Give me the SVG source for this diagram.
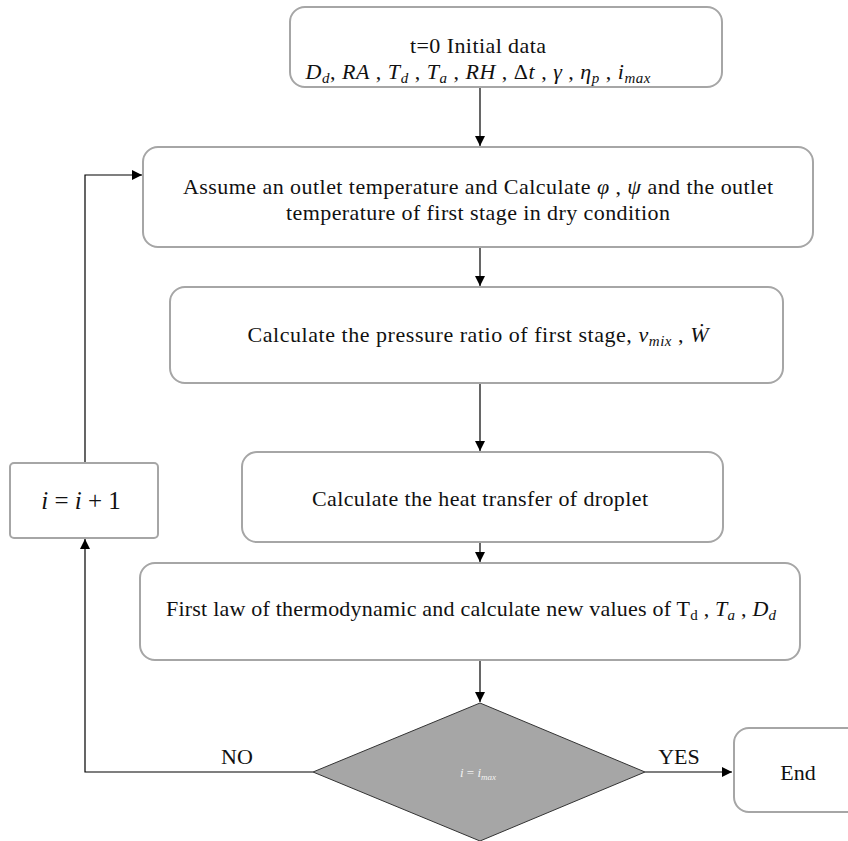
<svg xmlns="http://www.w3.org/2000/svg" width="848" height="841" viewBox="0 0 848 841" font-family="Liberation Serif, Times New Roman, serif">
<defs>
<marker id="ah" viewBox="0 0 10 10" refX="10" refY="5" markerWidth="10" markerHeight="10" markerUnits="userSpaceOnUse" orient="auto">
<path d="M0,0 L10,5 L0,10 z" fill="#000"/>
</marker>
</defs>
<style>
.box{fill:#fff;stroke:#a6a6a6;stroke-width:2}
.t{font-size:22px;fill:#111;text-anchor:middle}
.m{font-style:italic}
.s{font-size:15px}
.ln{fill:none;stroke:#000;stroke-width:1.2}
</style>
<rect width="848" height="841" fill="#fff"/>
<g id="connectors">
<line class="ln" x1="480" y1="87" x2="480" y2="146" marker-end="url(#ah)"/>
<line class="ln" x1="480" y1="247" x2="480" y2="286" marker-end="url(#ah)"/>
<line class="ln" x1="480" y1="383" x2="480" y2="451" marker-end="url(#ah)"/>
<line class="ln" x1="480" y1="542" x2="480" y2="562" marker-end="url(#ah)"/>
<line class="ln" x1="480" y1="660" x2="480" y2="702" marker-end="url(#ah)"/>
<polyline class="ln" points="313,772 85,772 85,539" marker-end="url(#ah)"/>
<polyline class="ln" points="85,463 85,175 142,175" marker-end="url(#ah)"/>
<line class="ln" x1="645" y1="772" x2="732" y2="772" marker-end="url(#ah)"/>
<text class="t" x="237" y="764">NO</text>
<text class="t" x="679" y="764">YES</text>
</g>
<g id="start">
<rect class="box" x="290" y="7" width="432" height="80" rx="15"/>
<text class="t" x="478" y="53" textLength="136" lengthAdjust="spacing">t=0 Initial  data</text>
<text class="t" x="478" y="79" textLength="345" lengthAdjust="spacing"><tspan class="m">D</tspan><tspan class="m s" dy="4">d</tspan><tspan dy="-4">, </tspan><tspan class="m">RA</tspan> , <tspan class="m">T</tspan><tspan class="m s" dy="4">d</tspan><tspan dy="-4"> , </tspan><tspan class="m">T</tspan><tspan class="m s" dy="4">a</tspan><tspan dy="-4"> , </tspan><tspan class="m">RH</tspan> , Δ<tspan class="m">t</tspan> , <tspan class="m">γ</tspan> , <tspan class="m">η</tspan><tspan class="m s" dy="4">p</tspan><tspan dy="-4"> , </tspan><tspan class="m">i</tspan><tspan class="m s" dy="4">max</tspan></text>
</g>
<g id="assume">
<rect class="box" x="143" y="147" width="670" height="100" rx="15"/>
<text class="t" x="478" y="194" textLength="590" lengthAdjust="spacing">Assume an outlet temperature and Calculate <tspan class="m">φ</tspan> , <tspan class="m">ψ</tspan> and the outlet</text>
<text class="t" x="478" y="220" textLength="384" lengthAdjust="spacing">temperature of first stage in dry condition</text>
</g>
<g id="pressure">
<rect class="box" x="170" y="287" width="613" height="96" rx="15"/>
<text class="t" x="478" y="342" textLength="461" lengthAdjust="spacing">Calculate the pressure ratio of first stage, <tspan class="m">v</tspan><tspan class="m s" dy="4">mix</tspan><tspan dy="-4"> , </tspan><tspan class="m">Ẇ</tspan></text>
</g>
<g id="heat">
<rect class="box" x="242" y="452" width="481" height="90" rx="15"/>
<text class="t" x="480" y="506" textLength="336" lengthAdjust="spacing">Calculate the heat transfer of droplet</text>
</g>
<g id="increment">
<rect class="box" x="10" y="463" width="148" height="75" rx="4"/>
<text class="t" x="81" y="509" style="font-size:25px"><tspan class="m">i</tspan> = <tspan class="m">i</tspan> + 1</text>
</g>
<g id="firstlaw">
<rect class="box" x="140" y="563" width="660" height="97" rx="15"/>
<text class="t" x="471" y="616" textLength="610" lengthAdjust="spacing">First law of thermodynamic and calculate new values of  T<tspan class="s" dy="4">d</tspan><tspan dy="-4"> , </tspan><tspan class="m">T</tspan><tspan class="m s" dy="4">a</tspan><tspan dy="-4"> , </tspan><tspan class="m">D</tspan><tspan class="m s" dy="4">d</tspan></text>
</g>
<g id="decision">
<polygon points="480,703 645,772 480,841 313,772" fill="#a6a6a6" stroke="#333" stroke-width="1"/>
<text class="t" x="478" y="777" style="font-size:13px;fill:#f2f2f2"><tspan class="m">i</tspan> = <tspan class="m">i</tspan><tspan class="m" style="font-size:9px" dy="3">max</tspan></text>
</g>
<g id="end">
<rect class="box" x="734" y="728" width="130" height="84" rx="15"/>
<text class="t" x="798" y="780">End</text>
</g>
</svg>
